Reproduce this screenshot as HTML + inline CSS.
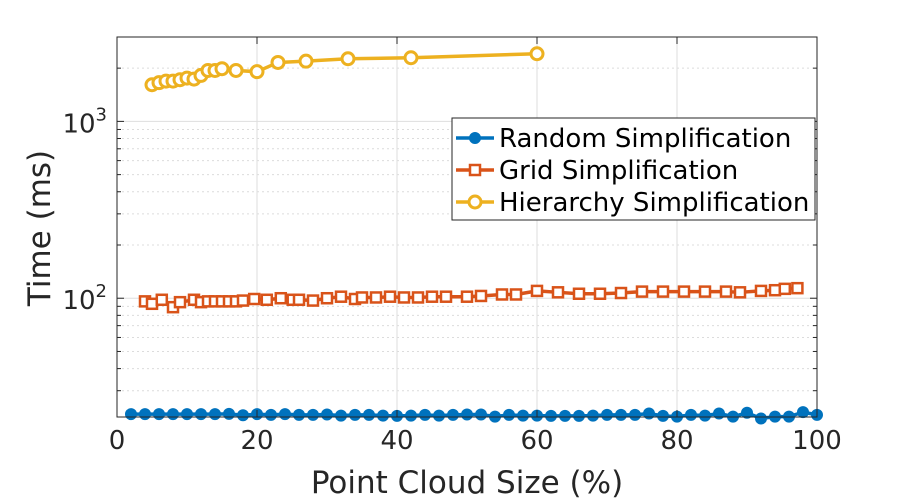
<!DOCTYPE html>
<html><head><meta charset="utf-8"><style>
body{margin:0;background:#fff;}
svg{display:block;font-family:"DejaVu Sans","Liberation Sans",sans-serif;}
</style></head><body>
<svg id="chart" width="900" height="500" viewBox="0 0 900 500">
<g id="grid"></g>
<g id="series"></g>
<g id="axes"></g>
<text transform="translate(50,228) rotate(-90)" text-anchor="middle" font-size="31" fill="#262626">Time (ms)</text>
<text x="467" y="493" text-anchor="middle" font-size="31" fill="#262626">Point Cloud Size (%)</text>
<g>
<rect x="452" y="118" width="363" height="102" fill="#fff" stroke="#262626" stroke-width="1"/>
<g>
<line x1="456" y1="138" x2="494" y2="138" stroke="#0072BD" stroke-width="3.5"/><circle cx="475" cy="138" r="5.5" fill="#0072BD" stroke="#0072BD"/>
<text x="499" y="147" font-size="26" fill="#000">Random Simplification</text></g>
<g>
<line x1="456" y1="170" x2="494" y2="170" stroke="#D95319" stroke-width="3.5"/><rect x="470" y="165" width="10" height="10" fill="#fff" stroke="#D95319" stroke-width="2.5"/>
<text x="499" y="179" font-size="26" fill="#000">Grid Simplification</text></g>
<g>
<line x1="456" y1="202" x2="494" y2="202" stroke="#EDB120" stroke-width="3.5"/><circle cx="475" cy="202" r="6" fill="#fff" stroke="#EDB120" stroke-width="3"/>
<text x="499" y="211" font-size="26" fill="#000">Hierarchy Simplification</text></g>
</g>
</svg>
<script>
const xTicks=[0,20,40,60,80,100];
const yMajor=[100,1000];
const yMinor=[30,40,50,60,70,80,90,200,300,400,500,600,700,800,900,2000];
const randX=[2,4,6,8,10,12,14,16,18,20,22,24,26,28,30,32,34,36,38,40,42,44,46,48,50,52,54,56,58,60,62,64,66,68,70,72,74,76,78,80,82,84,86,88,90,92,94,96,98,100];
const randY=[22.1,22.1,22.1,22.1,22.1,22.1,22.1,22.2,21.8,22.1,21.9,22.1,21.9,21.9,22.0,21.7,21.9,21.9,21.7,21.6,21.7,21.9,21.7,21.9,22.0,22.0,21.4,21.9,21.7,21.7,21.6,21.6,21.6,21.7,21.9,21.9,21.9,22.3,21.6,21.4,21.9,21.7,22.3,21.4,22.5,20.9,21.4,21.4,22.7,21.9];
const gridX=[4,5,6.4,8,9,11,12,13,14,15,16,17,18,19.6,21.4,23.4,25.1,26,28,30,32,34,35,37,39,41,43,45,47,50,52,55,57,60,63,66,69,72,75,78,81,84,87,89,92,94,95.4,97.2];
const gridY=[96,93,98,89,95,98,95,96,96,96,96,96,97,99,98,100,98,98,97,100,102,99,101,101,102,101,101,102,102,102,103,105,105,110,108,106,106,107,109,109,109,109,109,108,110,111,113,114];
const hierX=[5,6,7,8,9,10,11,12,13,14,15,17,20,23,27,33,42,60];
const hierY=[1611,1655,1690,1690,1720,1757,1734,1820,1941,1941,1985,1941,1910,2154,2191,2260,2290,2412];

const L=117,R=817,T=37,B=417,yLo=21.3,yHi=3000;
const sx=v=>L+(v-0)/(100-0)*(R-L);
const sy=v=>B-(Math.log10(v)-Math.log10(yLo))/(Math.log10(yHi)-Math.log10(yLo))*(B-T);
const NS="http://www.w3.org/2000/svg";
function mk(tag,attrs,parent){const e=document.createElementNS(NS,tag);for(const k in attrs)e.setAttribute(k,attrs[k]);parent.appendChild(e);return e;}
const grid=document.getElementById('grid'),axes=document.getElementById('axes'),ser=document.getElementById('series');
yMinor.forEach(v=>{const y=sy(v);
 const g=mk('line',{x1:L,x2:R,y1:y,y2:y,stroke:'#dcdcdc','stroke-width':1,'stroke-dasharray':'2,3'},grid);
 
 mk('line',{x1:L,x2:L+4,y1:y,y2:y,stroke:'#262626'},axes);mk('line',{x1:R,x2:R-4,y1:y,y2:y,stroke:'#262626'},axes);});
yMajor.forEach(v=>{const y=sy(v);
 const g=mk('line',{x1:L,x2:R,y1:y,y2:y,stroke:'#dedede','stroke-width':1},grid);
 
 mk('line',{x1:L,x2:L+7,y1:y,y2:y,stroke:'#262626'},axes);mk('line',{x1:R,x2:R-7,y1:y,y2:y,stroke:'#262626'},axes);
 const t=mk('text',{x:L-10,y:y+11,'text-anchor':'end','font-size':26,fill:'#262626'},axes);
 
 t.textContent='10';const s=mk('tspan',{dy:-12,'font-size':18},t);s.textContent=String(Math.round(Math.log10(v)));});
xTicks.forEach(v=>{const x=sx(v);
 const g=mk('line',{x1:x,x2:x,y1:T,y2:B,stroke:'#dedede','stroke-width':1},grid);
 
 mk('line',{x1:x,x2:x,y1:B,y2:B-7,stroke:'#262626'},axes);mk('line',{x1:x,x2:x,y1:T,y2:T+7,stroke:'#262626'},axes);
 const t=mk('text',{x:x,y:B+32,'text-anchor':'middle','font-size':26,fill:'#262626'},axes);
 t.textContent=v;});
const box=mk('rect',{x:L,y:T,width:R-L,height:B-T,fill:'none',stroke:'#262626','stroke-width':1},axes);


function series(xs,ys,color,marker,name){
 const g=mk('g',{},ser);
 const pts=xs.map((x,i)=>sx(x)+','+sy(ys[i])).join(' ');
 const pl=mk('polyline',{points:pts,fill:'none',stroke:color,'stroke-width':3.5,'stroke-linejoin':'round'},g);
 
 xs.forEach((x,i)=>{const cx=sx(x),cy=sy(ys[i]);let m;
  if(marker==='dot')m=mk('circle',{cx,cy,r:5.5,fill:color,stroke:color},g);
  else if(marker==='sq')m=mk('rect',{x:cx-5,y:cy-5,width:10,height:10,fill:'#fff',stroke:color,'stroke-width':2.5},g);
  else m=mk('circle',{cx,cy,r:6,fill:'#fff',stroke:color,'stroke-width':3},g);
  });
}
series(randX,randY,'#0072BD','dot','random-series');
series(gridX,gridY,'#D95319','sq','grid-series');
series(hierX,hierY,'#EDB120','circ','hierarchy-series');
</script>
</body></html>
